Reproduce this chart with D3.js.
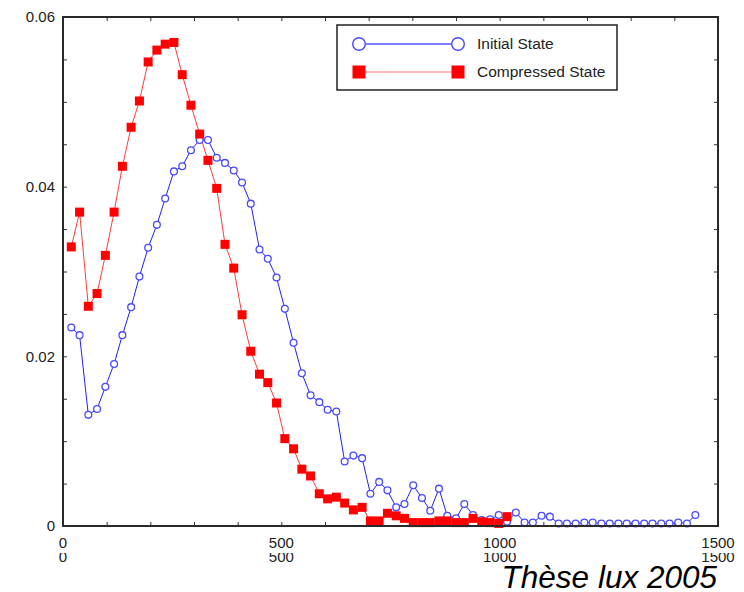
<!DOCTYPE html>
<html>
<head>
<meta charset="utf-8">
<script src="https://cdn.jsdelivr.net/npm/d3@7"></script>
<style>
  body { margin: 0; background: #fff; }
  #chart { width: 744px; height: 592px; }
</style>
</head>
<body>
<div id="chart"></div>
<script>
// bin centres shared by both series
const binCentres = [
  19, 38, 58, 78, 97, 117, 136, 156, 175, 195,
  215, 234, 254, 273, 293, 313, 332, 352, 371, 391,
  410, 430, 450, 469, 489, 508, 528, 547, 567, 587,
  606, 626, 645, 665, 685, 704, 724, 743, 763, 782,
  802, 822, 841, 861, 880, 900, 919, 939, 959, 978,
  998, 1017, 1037, 1057, 1076, 1096, 1115, 1135, 1154, 1174,
  1194, 1213, 1233, 1252, 1272, 1291, 1311, 1331, 1350, 1370,
  1389, 1409, 1429, 1448
];

const initialState = [
  0.0234, 0.0225, 0.0131, 0.0138, 0.0164, 0.0191, 0.0225, 0.0258, 0.0294, 0.0328,
  0.0355, 0.0386, 0.0418, 0.0424, 0.0443, 0.0455, 0.0455, 0.0434, 0.0428, 0.0419,
  0.0405, 0.0380, 0.0326, 0.0315, 0.0293, 0.0256, 0.0216, 0.0180, 0.0154, 0.0146,
  0.0137, 0.0135, 0.0076, 0.0083, 0.0080, 0.0038, 0.0052, 0.0042, 0.0022, 0.0026,
  0.0048, 0.0033, 0.0018, 0.0044, 0.0012, 0.0009, 0.0026, 0.0013, 0.0007, 0.0008,
  0.0013, 0.0005, 0.0016, 0.0004, 0.0004, 0.0012, 0.0011, 0.0003, 0.0003, 0.0003,
  0.0004, 0.0004, 0.0003, 0.0003, 0.0003, 0.0003, 0.0003, 0.0003, 0.0003, 0.0003,
  0.0003, 0.0004, 0.0003, 0.0013
];

const compressedState = [
  0.0329, 0.0370, 0.0259, 0.0274, 0.0319, 0.0370, 0.0424, 0.0470, 0.0501, 0.0547,
  0.0561, 0.0568, 0.0570, 0.0532, 0.0496, 0.0462, 0.0431, 0.0398, 0.0332, 0.0304,
  0.0249, 0.0206, 0.0179, 0.0169, 0.0145, 0.0103, 0.0091, 0.0067, 0.0059, 0.0038,
  0.0032, 0.0034, 0.0027, 0.0019, 0.0022, 0.0006, 0.0006, 0.0015, 0.0012, 0.0009,
  0.0004, 0.0004, 0.0004, 0.0006, 0.0006, 0.0004, 0.0004, 0.0009, 0.0005, 0.0004,
  0.0003, 0.0011
];

const xTickLabels = [0, 500, 1000, 1500];
const yTickLabels = [0, 0.02, 0.04, 0.06];
const legendLabels = ["Initial State", "Compressed State"];

const margin = { top: 17, right: 26, bottom: 66, left: 63 },
      width = 744 - margin.left - margin.right,
      height = 592 - margin.top - margin.bottom;

const svg = d3.select("#chart").append("svg")
    .attr("width", 744)
    .attr("height", 592)
    .style("font-family", "'Liberation Sans', Arial, sans-serif");

const g = svg.append("g")
    .attr("transform", "translate(" + margin.left + "," + margin.top + ")");

const x = d3.scaleLinear().domain([0, 1500]).range([0, width]);
const y = d3.scaleLinear().domain([0, 0.06]).range([height, 0]);

const blue = initialState.map((v, i) => ({ x: binCentres[i], y: v }));
const red = compressedState.map((v, i) => ({ x: binCentres[i], y: v }));

const line = d3.line().x(d => x(d.x)).y(d => y(d.y));

// ticks (inward, on all four sides)
const xt = d3.range(0, 1501, 100);
const yt = d3.range(0, 0.0601, 0.005);

function styleAxis(sel) {
  sel.select(".domain").remove();
  sel.selectAll(".tick line").attr("stroke", "#333");
  sel.selectAll("text").remove();
}

g.append("g").attr("transform", "translate(0," + height + ")")
  .call(d3.axisBottom(x).tickValues(xt).tickSize(-4)).call(styleAxis);
g.append("g")
  .call(d3.axisTop(x).tickValues(xt).tickSize(-4)).call(styleAxis);
g.append("g")
  .call(d3.axisLeft(y).tickValues(yt).tickSize(-4)).call(styleAxis);
g.append("g").attr("transform", "translate(" + width + ",0)")
  .call(d3.axisRight(y).tickValues(yt).tickSize(-4)).call(styleAxis);

// tick labels
g.selectAll(".xlab")
  .data(xTickLabels)
  .enter().append("text")
    .attr("class", "xlab")
    .attr("x", d => x(d))
    .attr("y", height + 22)
    .attr("text-anchor", "middle")
    .attr("font-size", 15)
    .attr("fill", "#222")
    .text(d => d);

// ghost copy of the x labels, top cut off (as in the scanned original)
g.append("clipPath").attr("id", "ghost")
  .append("rect").attr("x", -margin.left).attr("y", height + 27).attr("width", 744).attr("height", 20);

g.append("g").attr("clip-path", "url(#ghost)")
  .selectAll("text")
  .data(xTickLabels)
  .enter().append("text")
    .attr("x", d => x(d))
    .attr("y", height + 36)
    .attr("text-anchor", "middle")
    .attr("font-size", 15)
    .attr("fill", "#222")
    .text(d => d);

g.selectAll(".ylab")
  .data(yTickLabels)
  .enter().append("text")
    .attr("class", "ylab")
    .attr("x", -8)
    .attr("y", d => y(d))
    .attr("dy", "0.35em")
    .attr("text-anchor", "end")
    .attr("font-size", 15)
    .attr("fill", "#222")
    .text(d => d);

// series
g.append("path")
  .datum(blue)
  .attr("d", line)
  .attr("fill", "none")
  .attr("stroke", "#2020ff")
  .attr("stroke-width", 1);

g.append("path")
  .datum(red)
  .attr("d", line)
  .attr("fill", "none")
  .attr("stroke", "#ff3b3b")
  .attr("stroke-width", 1);

g.selectAll(".circ")
  .data(blue)
  .enter().append("circle")
    .attr("class", "circ")
    .attr("cx", d => x(d.x))
    .attr("cy", d => y(d.y))
    .attr("r", 3.4)
    .attr("fill", "#fff")
    .attr("stroke", "#4a4aff")
    .attr("stroke-width", 1.3);

const sq = 9;
g.selectAll(".sq")
  .data(red)
  .enter().append("rect")
    .attr("class", "sq")
    .attr("x", d => x(d.x) - sq / 2)
    .attr("y", d => y(d.y) - sq / 2)
    .attr("width", sq)
    .attr("height", sq)
    .attr("fill", "#ff0000");

// frame
g.append("rect")
  .attr("width", width)
  .attr("height", height)
  .attr("fill", "none")
  .attr("stroke", "#2a2a2a")
  .attr("stroke-width", 2);

// legend
const legend = svg.append("g").attr("transform", "translate(337,25)");
legend.append("rect")
  .attr("width", 280)
  .attr("height", 65)
  .attr("fill", "#fff")
  .attr("stroke", "#222")
  .attr("stroke-width", 1.5);

const row1 = legend.append("g").attr("transform", "translate(0,19)");
row1.append("line").attr("x1", 22).attr("x2", 121).attr("stroke", "#0000ff").attr("stroke-width", 1.2);
[22, 121].forEach(cx => row1.append("circle")
  .attr("cx", cx).attr("r", 6.3).attr("fill", "#fff")
  .attr("stroke", "#4a4aff").attr("stroke-width", 1.4));
row1.append("text").attr("x", 140).attr("dy", "0.35em")
  .attr("font-size", 15.5).attr("fill", "#222").text(legendLabels[0]);

const row2 = legend.append("g").attr("transform", "translate(0,47)");
row2.append("line").attr("x1", 22).attr("x2", 121).attr("stroke", "#ffa0a0").attr("stroke-width", 1.5);
[22, 121].forEach(cx => row2.append("rect")
  .attr("x", cx - 6.5).attr("y", -6.5).attr("width", 13).attr("height", 13)
  .attr("fill", "#ff0000"));
row2.append("text").attr("x", 140).attr("dy", "0.35em")
  .attr("font-size", 15.5).attr("fill", "#222").text(legendLabels[1]);

// caption
svg.append("text")
  .attr("x", 717)
  .attr("y", 588)
  .attr("text-anchor", "end")
  .attr("font-size", 31.5)
  .attr("font-style", "italic")
  .attr("fill", "#000")
  .text("Thèse lux 2005");
</script>
</body>
</html>
